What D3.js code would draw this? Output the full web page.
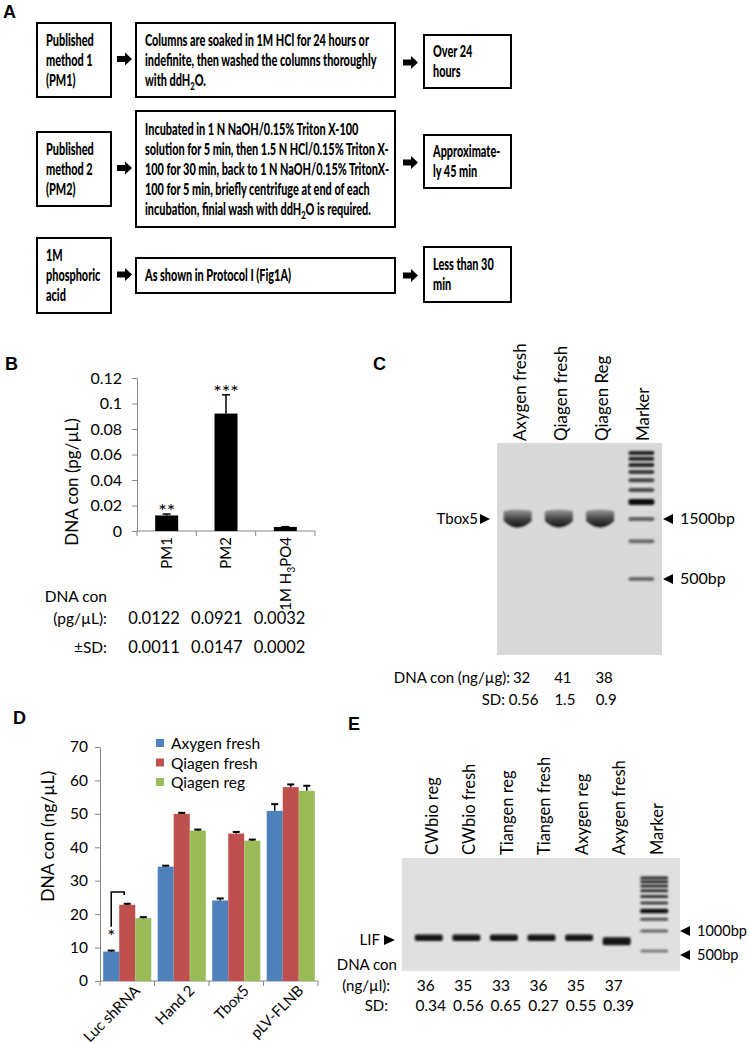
<!DOCTYPE html>
<html>
<head>
<meta charset="utf-8">
<script src="https://cdn.jsdelivr.net/npm/d3@7"></script>
<style>
body { margin: 0; background: #fff; }
svg text { font-family: Lato, "Open Sans", sans-serif; fill: #000; }
</style>
</head>
<body>
<div id="fig"></div>
<script>
var width = 750, height = 1042;

// ---- panel A: flow chart text ----
var flowMethods = [["Published", "method 1", "(PM1)"],
                   ["Published", "method 2", "(PM2)"],
                   ["1M", "phosphoric", "acid"]];
var flowSteps = [["Columns are soaked in 1M HCl for 24 hours or",
                  "indefinite, then washed the columns thoroughly",
                  "with ddH_2O."],
                 ["Incubated in 1 N NaOH/0.15% Triton X-100",
                  "solution for 5 min, then 1.5 N HCl/0.15% Triton X-",
                  "100 for 30 min, back to 1 N NaOH/0.15% TritonX-",
                  "100 for 5 min, briefly centrifuge at end of each",
                  "incubation, finial wash with ddH_2O is required."],
                 ["As shown in Protocol I (Fig1A)"]];
var flowTimes = [["Over 24", "hours"], ["Approximate-", "ly 45 min"], ["Less  than 30", "min"]];

// ---- panel B ----
var bCats = ["PM1", "PM2", "1M H_3PO4"];
var bMeans = [0.0122, 0.0921, 0.0032];
var bSD = [0.0011, 0.0147, 0.0002];
var bStars = ["**", "***", ""];
var bTicks = [0, 0.02, 0.04, 0.06, 0.08, 0.1, 0.12];
var bConcText = ["0.0122", "0.0921", "0.0032"];
var bSDText = ["0.0011", "0.0147", "0.0002"];

// ---- panel C ----
var cLanes = ["Axygen fresh", "Qiagen fresh", "Qiagen Reg"];
var cBandBp = [1500, 1500, 1500];
var cConc = ["32", "41", "38"];
var cSD = ["0.56", "1.5", "0.9"];
var ladderBp = [500, 1000, 1500, 2000, 2500, 3000, 3500, 4000, 4500, 5000];
var cLadderInt = [0.55, 0.55, 0.6, 1.0, 0.7, 0.75, 0.8, 0.9, 0.9, 0.9];

// ---- panel D ----
var dCats = ["Luc shRNA", "Hand 2", "Tbox5", "pLV-FLNB"];
var dSeries = ["Axygen fresh", "Qiagen fresh", "Qiagen reg"];
var dAxygen = [8.8, 34.2, 24.1, 50.9];
var dQiagenFresh = [22.8, 50.0, 44.1, 58.0];
var dQiagenReg = [18.8, 45.0, 42.0, 56.9];
var dAxygenSD = [0.3, 0.3, 0.6, 2.0];
var dQiagenFreshSD = [0.3, 0.3, 0.5, 0.8];
var dQiagenRegSD = [0.3, 0.3, 0.3, 1.5];
var dTicks = [0, 10, 20, 30, 40, 50, 60, 70];

// ---- panel E ----
var eLanes = ["CWbio reg", "CWbio fresh", "Tiangen reg", "Tiangen fresh", "Axygen reg", "Axygen fresh"];
var eBandBp = [790, 790, 790, 790, 790, 700];
var eConc = ["36", "35", "33", "36", "35", "37"];
var eSD = ["0.34", "0.56", "0.65", "0.27", "0.55", "0.39"];
var eLadderInt = [0.5, 0.6, 0.7, 1.0, 0.8, 0.85, 0.85, 0.9, 0.9, 0.9];

var svg = d3.select('#fig').append('svg').attr('width', width).attr('height', height);

// text with "_3" style subscripts
function rich(sel, str) {
  var parts = str.split(/_(\d)/);
  var shifted = false;
  parts.forEach(function(p, i) {
    if (!p) return;
    var t = sel.append('tspan').text(p);
    if (i % 2 === 1) { t.attr('dy', 4).attr('font-size', '70%'); shifted = true; }
    else if (shifted) { t.attr('dy', -4); shifted = false; }
  });
}
function squeeze(sel, k) {
  sel.each(function() {
    var w = this.getComputedTextLength();
    d3.select(this).attr('textLength', w * k).attr('lengthAdjust', 'spacingAndGlyphs');
  });
}
function letter(x, y, s) {
  svg.append('text').attr('x', x).attr('y', y).attr('font-size', 18)
    .attr('font-weight', 'bold').style('font-family', '"Liberation Sans", Arial, sans-serif').text(s);
}
function styleAxis(g, fs) {
  g.attr('font-size', fs).attr('font-family', null);
  g.select('.domain').attr('stroke', '#868686');
  g.selectAll('.tick line').attr('stroke', '#868686');
}

var defs = svg.append('defs');
defs.append('filter').attr('id', 'soft').attr('x', '-20%').attr('y', '-80%')
  .attr('width', '140%').attr('height', '260%')
  .append('feGaussianBlur').attr('stdDeviation', 0.9);
var sg = defs.append('linearGradient').attr('id', 'smile').attr('x1', 0).attr('y1', 0).attr('x2', 0).attr('y2', 1);
sg.append('stop').attr('offset', '0%').attr('stop-color', '#9a9a9a');
sg.append('stop').attr('offset', '55%').attr('stop-color', '#404040');
sg.append('stop').attr('offset', '100%').attr('stop-color', '#141414');

// ================= A =================
letter(3, 18, 'A');
var boxCols = [[37, 111], [136, 395], [424, 511]];
var rowBoxes = [
  [[23, 97], [23, 97], [35, 88]],
  [[132, 206], [111, 227], [135, 188]],
  [[238, 313], [258, 293], [247, 302]]
];
var gA = svg.append('g');
function arrow(x, cy) {
  gA.append('path')
    .attr('d', 'M' + x + ',' + (cy - 3) + 'h8v-3.5l7,6.5l-7,6.5v-3.5h-8z')
    .attr('fill', '#000');
}
[flowMethods, flowSteps, flowTimes].forEach(function(col, ci) {
  col.forEach(function(lines, ri) {
    var bx = boxCols[ci], byy = rowBoxes[ri][ci];
    gA.append('rect').attr('x', bx[0]).attr('y', byy[0])
      .attr('width', bx[1] - bx[0]).attr('height', byy[1] - byy[0])
      .attr('fill', '#fff').attr('stroke', '#000').attr('stroke-width', 2);
    var cy = (byy[0] + byy[1]) / 2;
    lines.forEach(function(line, li) {
      var t = gA.append('text').attr('class', 'atext').attr('x', bx[0] + 9)
        .attr('y', cy + (li - (lines.length - 1) / 2) * 20 + 5.5)
        .attr('font-size', 17).attr('font-weight', 900);
      rich(t, line);
    });
  });
});
rowBoxes.forEach(function(r) {
  arrow(117, (r[0][0] + r[0][1]) / 2 - 1);
  arrow(403, (r[2][0] + r[2][1]) / 2 + 1);
});
var aSel = gA.selectAll('text.atext');
var refW = aSel.filter(function() { return this.textContent.indexOf('Columns') === 0; })
  .node().getComputedTextLength();
squeeze(aSel, 224 / refW);

// ================= B =================
letter(5, 370, 'B');
var gB = svg.append('g');
var bx = d3.scaleBand().domain(bCats).range([137, 315]);
var by = d3.scaleLinear().domain([0, 0.12]).range([531, 378]);
var bCol = d3.scalePoint().domain(bCats).range([154, 279.5]);
var bAxis = gB.append('g').attr('transform', 'translate(137,0)')
  .call(d3.axisLeft(by).tickValues(bTicks).tickSize(5).tickSizeOuter(0).tickPadding(10).tickFormat(d3.format('~g')));
styleAxis(bAxis, 16);
gB.append('line').attr('x1', 137).attr('x2', 315).attr('y1', by(0)).attr('y2', by(0)).attr('stroke', '#868686');
gB.selectAll('.xt').data(bCats.concat(['end'])).enter().append('line')
  .attr('x1', function(d) { return d === 'end' ? 315 : bx(d); })
  .attr('x2', function(d) { return d === 'end' ? 315 : bx(d); })
  .attr('y1', by(0)).attr('y2', by(0) + 5).attr('stroke', '#868686');
var bc = function(d) { return bx(d) + bx.bandwidth() / 2; };
gB.selectAll('.bar').data(bCats).enter().append('rect')
  .attr('x', function(d) { return bc(d) - 11.5; }).attr('width', 23)
  .attr('y', function(d, i) { return by(bMeans[i]); })
  .attr('height', function(d, i) { return by(0) - by(bMeans[i]); })
  .attr('fill', '#000');
bCats.forEach(function(d, i) {
  var top = by(bMeans[i] + bSD[i]);
  gB.append('line').attr('x1', bc(d)).attr('x2', bc(d)).attr('y1', by(bMeans[i])).attr('y2', top)
    .attr('stroke', '#000').attr('stroke-width', 1.5);
  gB.append('line').attr('x1', bc(d) - 4).attr('x2', bc(d) + 4).attr('y1', top).attr('y2', top)
    .attr('stroke', '#000').attr('stroke-width', 1.5);
  gB.append('text').attr('x', bc(d)).attr('y', top + 4).attr('text-anchor', 'middle')
    .attr('font-size', 20).text(bStars[i]);
  var t = gB.append('text').attr('transform', 'translate(' + bc(d) + ',537) rotate(-90)')
    .attr('text-anchor', 'end').attr('dy', '0.35em').attr('font-size', 15);
  rich(t, d);
  gB.append('text').attr('x', bCol(d)).attr('y', 624).attr('text-anchor', 'middle')
    .attr('font-size', 16.5).text(bConcText[i]);
  gB.append('text').attr('x', bCol(d)).attr('y', 653).attr('text-anchor', 'middle')
    .attr('font-size', 16.5).text(bSDText[i]);
});
gB.append('text').attr('transform', 'translate(72,482) rotate(-90)').attr('text-anchor', 'middle')
  .attr('dy', '0.35em').attr('font-size', 17).text('DNA con (pg/µL)');
gB.append('text').attr('x', 107).attr('y', 602).attr('text-anchor', 'end').attr('font-size', 15.5).text('DNA con');
gB.append('text').attr('x', 107).attr('y', 624).attr('text-anchor', 'end').attr('font-size', 15.5).text('(pg/µL):');
gB.append('text').attr('x', 107).attr('y', 653).attr('text-anchor', 'end').attr('font-size', 15.5).text('±SD:');

// ================= C =================
letter(373, 370, 'C');
var gC = svg.append('g');
var cx = d3.scaleBand().domain(cLanes.concat(['Marker'])).range([497, 662]);
var cy = d3.scaleLog().domain([500, 1500, 2000, 5000]).range([579, 519, 502, 453]);
var cc = function(d) { return cx(d) + cx.bandwidth() / 2; };
gC.append('rect').attr('x', 497).attr('y', 443).attr('width', 165).attr('height', 212).attr('fill', '#d9d9d9');
cLanes.forEach(function(d, i) {
  var x0 = cc(d) - 14, y0 = cy(cBandBp[i]) - 10;
  gC.append('path')
    .attr('d', 'M' + x0 + ',' + (y0 + 2) + 'Q' + (x0 + 14) + ',' + (y0 - 1) + ' ' + (x0 + 28) + ',' + (y0 + 2) +
      'L' + (x0 + 28) + ',' + (y0 + 12) + 'Q' + (x0 + 14) + ',' + (y0 + 25) + ' ' + x0 + ',' + (y0 + 12) + 'Z')
    .attr('fill', 'url(#smile)').attr('filter', 'url(#soft)');
});
var cInt = d3.interpolateRgb('#d9d9d9', '#101010');
ladderBp.forEach(function(bp, i) {
  var h = bp === 2000 ? 6 : 4;
  gC.append('rect').attr('x', cc('Marker') - 13).attr('width', 26)
    .attr('y', cy(bp) - h / 2).attr('height', h).attr('rx', 2)
    .attr('fill', cInt(cLadderInt[i])).attr('filter', 'url(#soft)');
});
cx.domain().forEach(function(d) {
  gC.append('text').attr('transform', 'translate(' + (cc(d) + 2) + ',441) rotate(-90)')
    .attr('dy', '0.35em').attr('font-size', 17).text(d);
});
gC.append('text').attr('x', 478).attr('y', cy(1500) + 5).attr('text-anchor', 'end').attr('font-size', 15).text('Tbox5');
gC.append('path').attr('d', 'M480,' + (cy(1500) - 5) + 'l10,5l-10,5z');
[[1500, '1500bp'], [500, '500bp']].forEach(function(m) {
  gC.append('path').attr('d', 'M663,' + cy(m[0]) + 'l10,-5v10z');
  gC.append('text').attr('x', 680).attr('y', cy(m[0]) + 5).attr('font-size', 16).text(m[1]);
});
gC.append('text').attr('x', 510).attr('y', 683).attr('text-anchor', 'end').attr('font-size', 15).text('DNA con (ng/µg):');
gC.append('text').attr('x', 505).attr('y', 705).attr('text-anchor', 'end').attr('font-size', 15).text('SD:');
cLanes.forEach(function(d, i) {
  gC.append('text').attr('x', cc(d) + 4).attr('y', 683).attr('text-anchor', 'middle').attr('font-size', 15).text(cConc[i]);
  gC.append('text').attr('x', cc(d) + 6).attr('y', 705).attr('text-anchor', 'middle').attr('font-size', 15).text(cSD[i]);
});

// ================= D =================
letter(13, 724, 'D');
var gD = svg.append('g');
var dColors = ['#4F81BD', '#C0504D', '#9BBB59'];
var dValues = [dAxygen, dQiagenFresh, dQiagenReg];
var dErr = [dAxygenSD, dQiagenFreshSD, dQiagenRegSD];
var dx0 = d3.scaleBand().domain(dCats).range([100, 318]);
var dx1 = d3.scaleBand().domain(dSeries).range([0, dx0.bandwidth()]).paddingOuter(0.2);
var dy = d3.scaleLinear().domain([0, 70]).range([981, 747]);
var dAxis = gD.append('g').attr('transform', 'translate(100,0)')
  .call(d3.axisLeft(dy).tickValues(dTicks).tickSize(5).tickSizeOuter(0).tickPadding(7));
styleAxis(dAxis, 15.5);
gD.append('line').attr('x1', 100).attr('x2', 318).attr('y1', dy(0)).attr('y2', dy(0)).attr('stroke', '#868686');
gD.selectAll('.xt').data(dCats.concat(['end'])).enter().append('line')
  .attr('x1', function(d) { return d === 'end' ? 318 : dx0(d); })
  .attr('x2', function(d) { return d === 'end' ? 318 : dx0(d); })
  .attr('y1', dy(0)).attr('y2', dy(0) + 5).attr('stroke', '#868686');
dSeries.forEach(function(s, si) {
  dCats.forEach(function(c, ci) {
    var x = dx0(c) + dx1(s), w = dx1.bandwidth(), v = dValues[si][ci], e = dErr[si][ci];
    gD.append('rect').attr('x', x).attr('width', w).attr('y', dy(v)).attr('height', dy(0) - dy(v))
      .attr('fill', dColors[si]);
    gD.append('line').attr('x1', x + w / 2).attr('x2', x + w / 2).attr('y1', dy(v)).attr('y2', dy(v + e))
      .attr('stroke', '#000').attr('stroke-width', 1.5);
    gD.append('line').attr('x1', x + w / 2 - 3.5).attr('x2', x + w / 2 + 3.5).attr('y1', dy(v + e)).attr('y2', dy(v + e))
      .attr('stroke', '#000').attr('stroke-width', 2);
  });
  gD.append('rect').attr('x', 156).attr('y', 739 + si * 19.5).attr('width', 8).attr('height', 8).attr('fill', dColors[si]);
  gD.append('text').attr('x', 171).attr('y', 749 + si * 19.5).attr('font-size', 15.5).text(s);
});
dCats.forEach(function(c) {
  var xc = dx0(c) + dx0.bandwidth() / 2;
  gD.append('text').attr('transform', 'translate(' + (xc + 10) + ',988) rotate(-45)')
    .attr('text-anchor', 'end').attr('dy', '0.35em').attr('font-size', 15).text(c);
});
var lucB = dx0(dCats[0]) + dx1(dSeries[0]) + dx1.bandwidth() / 2;
var lucR = dx0(dCats[0]) + dx1(dSeries[1]) + dx1.bandwidth() / 2;
gD.append('path').attr('d', 'M' + lucB + ',' + dy(16.2) + 'V' + dy(26.6) + 'H' + (lucR - 3) + 'V' + dy(25.7))
  .attr('fill', 'none').attr('stroke', '#000').attr('stroke-width', 1.5);
gD.append('text').attr('x', lucB).attr('y', dy(11.5)).attr('text-anchor', 'middle').attr('font-size', 19).text('*');
gD.append('text').attr('transform', 'translate(48,' + dy(43.3) + ') rotate(-90)').attr('text-anchor', 'middle')
  .attr('dy', '0.35em').attr('font-size', 17.5).text('DNA con (ng/µL)');

// ================= E =================
letter(348, 730, 'E');
var gE = svg.append('g');
var ex = d3.scaleBand().domain(eLanes.concat(['Marker'])).range([410, 673]);
var ey = d3.scaleLog().domain([500, 1000, 2000, 5000]).range([951, 931, 911, 878]);
var ec = function(d) { return ex(d) + ex.bandwidth() / 2; };
gE.append('rect').attr('x', 402).attr('y', 858).attr('width', 278).attr('height', 113).attr('fill', '#e0e0e0');
eLanes.forEach(function(d, i) {
  var h = i === eLanes.length - 1 ? 8 : 6.5;
  gE.append('rect').attr('x', ec(d) - 14).attr('width', 28).attr('y', ey(eBandBp[i]) - h / 2).attr('height', h)
    .attr('rx', 2).attr('fill', '#161616').attr('filter', 'url(#soft)');
});
var eIntp = d3.interpolateRgb('#e0e0e0', '#101010');
ladderBp.forEach(function(bp, i) {
  var h = bp === 2000 ? 4.5 : 3;
  gE.append('rect').attr('x', ec('Marker') - 14).attr('width', 28)
    .attr('y', ey(bp) - h / 2).attr('height', h).attr('rx', 1.5)
    .attr('fill', eIntp(eLadderInt[i])).attr('filter', 'url(#soft)');
});
ex.domain().forEach(function(d) {
  gE.append('text').attr('transform', 'translate(' + (ec(d) + 3) + ',855) rotate(-90)')
    .attr('dy', '0.35em').attr('font-size', 16.5).text(d);
});
gE.append('text').attr('x', 380).attr('y', 945).attr('text-anchor', 'end').attr('font-size', 15).text('LIF');
gE.append('path').attr('d', 'M384,935l11,5l-11,5z');
[[1000, '1000bp'], [500, '500bp']].forEach(function(m) {
  var yy = m[0] === 500 ? ey(m[0]) + 4 : ey(m[0]);
  gE.append('path').attr('d', 'M680,' + yy + 'l10,-5v10z');
  gE.append('text').attr('x', 697).attr('y', yy + 5).attr('font-size', 14.5).text(m[1]);
});
gE.append('text').attr('x', 397).attr('y', 970).attr('text-anchor', 'end').attr('font-size', 15).text('DNA con');
gE.append('text').attr('x', 390).attr('y', 991).attr('text-anchor', 'end').attr('font-size', 15).text('(ng/µl):');
gE.append('text').attr('x', 388).attr('y', 1011).attr('text-anchor', 'end').attr('font-size', 15).text('SD:');
eLanes.forEach(function(d, i) {
  gE.append('text').attr('x', ec(d) - 3).attr('y', 991).attr('text-anchor', 'middle').attr('font-size', 15.5).text(eConc[i]);
  gE.append('text').attr('x', ec(d) + 2).attr('y', 1011).attr('text-anchor', 'middle').attr('font-size', 15.5).text(eSD[i]);
});
</script>
</body>
</html>
